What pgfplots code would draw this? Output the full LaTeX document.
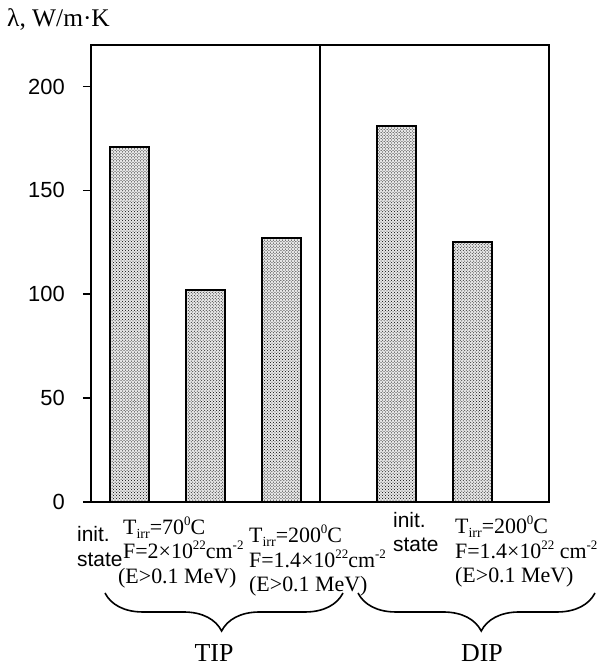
\documentclass[border=0pt]{standalone}
\usepackage{pgfplots}
\pgfplotsset{compat=1.18}
\usepackage{fontspec}
\setmainfont{Liberation Serif}
\newfontfamily\sansf{Liberation Sans}
\usetikzlibrary{patterns,decorations.pathreplacing}

\newcommand\labfont{\fontsize{22}{24.5}\selectfont}
\newcommand\sanslab{\sansf\fontsize{21}{24}\selectfont}
\newcommand\tickfont{\sansf\fontsize{22}{22}\selectfont}
% small raised / lowered indices
\newcommand\sups[1]{\raisebox{0.42em}{\fontsize{13}{13}\selectfont #1}}
\newcommand\subs[1]{\raisebox{-0.18em}{\fontsize{14}{14}\selectfont #1}}

\begin{document}
\begin{tikzpicture}
\path[use as bounding box] (0,0) rectangle (598bp,669bp);

\begin{axis}[
  at={(91bp,167bp)}, anchor=south west,
  width=458bp, height=457bp, scale only axis,
  xmin=0.5, xmax=6.5, ymin=0, ymax=220,
  xtick=\empty,
  ytick={0,50,100,150,200},
  ytick pos=left,
  tick align=outside,
  major tick length=8bp,
  every tick/.style={line width=1.6bp, black},
  axis line style={line width=2bp},
  /pgf/number format/assume math mode=true,
  yticklabel style={font=\tickfont, inner sep=0pt, xshift=-18bp},
  clip=false,
]
\addplot[ybar, bar width=39bp, bar shift=0pt, draw=black, line width=2.2bp,
  fill=gray!18, postaction={pattern=crosshatch dots, pattern color=black}]
  coordinates {(1,171) (2,102) (3,127) (4.5,181) (5.5,125)};
% separator between the TIP and DIP groups
\draw[line width=2bp] (axis cs:3.5,0) -- (axis cs:3.5,220);
\end{axis}

\begin{scope}[x=1bp, y=-1bp, yshift=669bp]
  % axis label
  \node[anchor=base west, inner sep=0] at (7,27) {\fontsize{25.5}{26}\selectfont λ, W/m·K};

  % TIP group
  \node[anchor=base west, inner sep=0] at (77,542) {\sanslab init.};
  \node[anchor=base west, inner sep=0] at (77,567) {\sanslab state};

  \node[anchor=base west, inner sep=0] at (123,535) {\labfont T\subs{irr}=70\sups{0}C};
  \node[anchor=base west, inner sep=0] at (123,559) {\labfont F=2×10\sups{22}cm\sups{-2}};
  \node[anchor=base west, inner sep=0] at (118,584) {\labfont (E>0.1 MeV)};

  \node[anchor=base west, inner sep=0] at (249,543) {\labfont T\subs{irr}=200\sups{0}C};
  \node[anchor=base west, inner sep=0] at (249,567.5) {\labfont F=1.4×10\sups{22}cm\sups{-2}};
  \node[anchor=base west, inner sep=0] at (249,592) {\labfont (E>0.1 MeV)};

  % DIP group
  \node[anchor=base west, inner sep=0] at (393,528) {\sanslab init.};
  \node[anchor=base west, inner sep=0] at (393,552) {\sanslab state};

  \node[anchor=base west, inner sep=0] at (455,534) {\labfont T\subs{irr}=200\sups{0}C};
  \node[anchor=base west, inner sep=0] at (455,559) {\labfont F=1.4×10\sups{22} cm\sups{-2}};
  \node[anchor=base west, inner sep=0] at (455,583) {\labfont (E>0.1 MeV)};

  % group braces
  \draw[line width=1.6bp, decorate, decoration={brace, amplitude=38bp, mirror, aspect=0.49}]
    (105,593) -- (343,593);
  \draw[line width=1.6bp, decorate, decoration={brace, amplitude=38bp, mirror, aspect=0.52}]
    (358,593) -- (595,593);

  \node[anchor=base, inner sep=0] at (214,662) {\fontsize{26}{26}\selectfont TIP};
  \node[anchor=base, inner sep=0] at (482,662) {\fontsize{26}{26}\selectfont DIP};
\end{scope}
\end{tikzpicture}
\end{document}
